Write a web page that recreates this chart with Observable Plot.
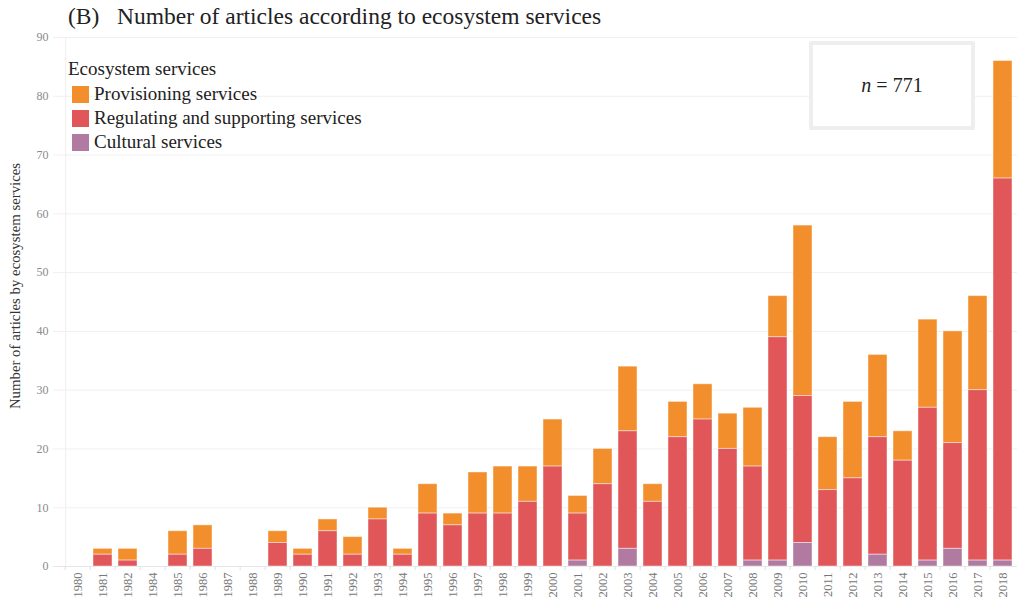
<!DOCTYPE html>
<html>
<head>
<meta charset="utf-8">
<script src="https://cdn.jsdelivr.net/npm/d3@7"></script>
<script src="https://cdn.jsdelivr.net/npm/@observablehq/plot@0.6"></script>
<style>
  html, body { margin: 0; padding: 0; background: #fff; overflow: hidden; }
  #wrap { position: relative; width: 1017px; height: 597px; overflow: hidden; font-family: "Liberation Serif", "DejaVu Serif", serif; }
  #title { position: absolute; left: 68px; top: 3px; font-size: 23.5px; color: #222; white-space: pre; }
  #chart { position: absolute; left: 0; top: 30px; width: 1027px; }
  #chart svg { max-width: none !important; }
  #legend { position: absolute; left: 68px; top: 58px; font-size: 19px; color: #222; }
  #legend .ttl { height: 24px; line-height: 22px; }
  #legend .row { display: flex; align-items: center; height: 24px; }
  #legend .sw { width: 17px; height: 17px; margin-left: 4px; margin-right: 5px; }
  #nbox { position: absolute; left: 809px; top: 41px; width: 158px; height: 81px; border: 4px solid #eeeeee; border-radius: 2px; background: #fff; display: flex; align-items: center; justify-content: center; font-size: 20px; color: #222; }
</style>
</head>
<body>
<div id="wrap">
  <div id="title"></div>
  <div id="chart"></div>
  <div id="legend"></div>
  <div id="nbox"></div>
</div>
<script>
const titleText = "(B)   Number of articles according to ecosystem services";
const yLabel = "Number of articles by ecosystem services";
const legendTitle = "Ecosystem services";
const nLabel = 771;

const years = ["1980","1981","1982","1984","1985","1986","1987","1988","1989","1990",
  "1991","1992","1993","1994","1995","1996","1997","1998","1999","2000",
  "2001","2002","2003","2004","2005","2006","2007","2008","2009","2010",
  "2011","2012","2013","2014","2015","2016","2017","2018"];

const services = ["Provisioning services", "Regulating and supporting services", "Cultural services"];
const colors = ["#F28E2B", "#E15759", "#B07AA1"];

const provisioning = [0,1,2,0,4,4,0,0,2,1, 2,3,2,1,5,2,7,8,6,8, 3,6,11,3,6,6,6,10,7,29, 9,13,14,5,15,19,16,20];
const regulating   = [0,2,1,0,2,3,0,0,4,2, 6,2,8,2,9,7,9,9,11,17, 8,14,20,11,22,25,20,16,38,25, 13,15,20,18,26,18,29,65];
const cultural     = [0,0,0,0,0,0,0,0,0,0, 0,0,0,0,0,0,0,0,0,0, 1,0,3,0,0,0,0,1,1,4, 0,0,2,0,1,3,1,1];

const yTicks = [0,10,20,30,40,50,60,70,80,90];

// build tidy table
const series = [provisioning, regulating, cultural];
const rows = [];
years.forEach((yr, i) => {
  services.forEach((s, k) => {
    if (series[k][i] > 0) rows.push({year: yr, service: s, value: series[k][i]});
  });
});

document.getElementById("title").textContent = titleText;

const W = 1027, H = 567, mL = 53, mR = 0, mT = 7, mB = 31;
const step = (W - mL - mR) / years.length;

const chart = Plot.plot({
  width: W,
  height: H,
  marginLeft: mL,
  marginRight: mR,
  marginTop: mT,
  marginBottom: mB,
  style: {fontFamily: "'Liberation Serif', 'DejaVu Serif', serif", fontSize: "12px", background: "transparent", maxWidth: "none"},
  x: {domain: years, paddingInner: 0.26, paddingOuter: 0.13, label: null},
  y: {domain: [0, 90], label: null},
  color: {domain: services, range: colors},
  marks: [
    Plot.gridY(yTicks, {stroke: "#f0f0f0", strokeOpacity: 1}),
    Plot.ruleX([years[0]], {dx: -step / 2 + 0.5, stroke: "#eeeeee"}),
    Plot.ruleY([0], {stroke: "#e6e6e6"}),
    Plot.ruleX(years, {x: d => d, dx: -step / 2, y1: 0, y2: -0.7, stroke: "#e0e0e0"}),
    Plot.barY(rows, Plot.stackY({
      x: "year", y: "value", fill: "service",
      order: ["Cultural services", "Regulating and supporting services", "Provisioning services"],
      stroke: "#ffffff", strokeOpacity: 0.45, strokeWidth: 1
    })),
    Plot.axisY(yTicks, {tickSize: 0, tickPadding: 5, fill: "#8a8a8a", fontSize: 12, label: null}),
    Plot.axisX({tickSize: 0, tickRotate: -90, tickPadding: 6, fill: "#777", fontSize: 12.5, label: null}),
    Plot.text([yLabel], {frameAnchor: "left", textAnchor: "middle", rotate: -90, dx: -38, dy: -16, fill: "#333", fontSize: 14.8})
  ]
});
chart.style.maxWidth = "none";
chart.setAttribute("width", W);
document.getElementById("chart").appendChild(chart);

// legend
const lg = document.getElementById("legend");
const t = document.createElement("div"); t.className = "ttl"; t.textContent = legendTitle; lg.appendChild(t);
services.forEach((s, k) => {
  const r = document.createElement("div"); r.className = "row";
  const sw = document.createElement("div"); sw.className = "sw"; sw.style.background = colors[k];
  const lb = document.createElement("span"); lb.textContent = s;
  r.appendChild(sw); r.appendChild(lb); lg.appendChild(r);
});

// n box
document.getElementById("nbox").innerHTML = "<span><i>n</i> = " + nLabel + "</span>";
</script>
</body>
</html>
